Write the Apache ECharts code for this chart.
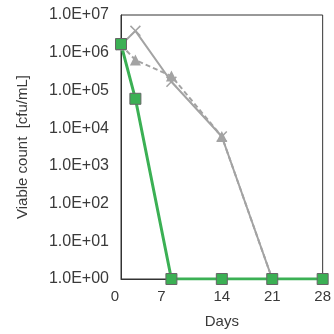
<!DOCTYPE html>
<html>
<head>
<meta charset="utf-8">
<script src="https://cdn.jsdelivr.net/npm/echarts@6/dist/echarts.min.js"></script>
<style>
html, body { margin: 0; padding: 0; background: #fff; }
#chart { width: 334px; height: 334px; }
</style>
</head>
<body>
<div id="chart"></div>
<script>
// values
const grayDays = [0, 2, 7, 14, 21];
const graySolid = [1.6e6, 3.8e6, 1.7e5, 6.0e3, 1];
const grayDashed = [1.6e6, 6.4e5, 2.4e5, 6.0e3, 1];
const greenDays = [0, 2, 7, 14, 21, 28];
const greenVals = [1.7e6, 6.0e4, 1, 1, 1, 1];
const xTicks = [0, 7, 14, 21, 28];

const pairs = (xs, ys) => xs.map((x, i) => [x, ys[i]]);
const crossPath = 'path://M0,1 L1,0 L5,4 L9,0 L10,1 L6,5 L10,9 L9,10 L5,6 L1,10 L0,9 L4,5 Z';
const txt = '#3a3a3a';
const font = 'Liberation Sans, Arial, sans-serif';

let myChart = echarts.init(document.getElementById('chart'));
myChart.setOption({
    animation: false,
    grid: { left: 121, top: 15, right: 8, bottom: 55, show: true, borderColor: '#333', borderWidth: 1 },
    xAxis: {
        type: 'value', min: 0, max: 28, interval: 7,
        name: 'Days', nameLocation: 'middle', nameGap: 35,
        nameTextStyle: { color: txt, fontSize: 15, fontFamily: font },
        axisLine: { show: true, lineStyle: { color: '#333' } },
        axisTick: { show: false },
        splitLine: { show: false },
        axisLabel: {
            color: txt, fontSize: 15, fontFamily: font, margin: 10,
            formatter: v => {
                if (!xTicks.includes(v)) return '';
                if (v === 0) return '{a|0}';
                if (v === 7) return '{b|7}';
                return String(v);
            },
            rich: {
                a: { fontSize: 15, fontFamily: font, color: txt, padding: [0, 12, 0, 0] },
                b: { fontSize: 15, fontFamily: font, color: txt, padding: [0, 20, 0, 0] }
            }
        }
    },
    yAxis: {
        type: 'log', logBase: 10, min: 1, max: 1e7,
        name: 'Viable count  [cfu/mL]', nameLocation: 'middle', nameGap: 91,
        nameTextStyle: { color: txt, fontSize: 15, fontFamily: font },
        axisLine: { show: true, lineStyle: { color: '#333' } },
        axisTick: { show: false },
        splitLine: { show: false },
        axisLabel: {
            color: txt, fontSize: 16, fontFamily: font, margin: 12,
            formatter: v => '1.0E+' + String(Math.round(Math.log10(v))).padStart(2, '0')
        }
    },
    series: [
        {
            type: 'line', data: pairs(grayDays, graySolid),
            lineStyle: { color: '#a3a3a3', width: 2 },
            symbol: crossPath, symbolSize: 11,
            itemStyle: { color: '#a3a3a3' }
        },
        {
            type: 'line', data: pairs(grayDays, grayDashed),
            lineStyle: { color: '#a3a3a3', width: 2, type: [5, 3] },
            symbol: 'triangle', symbolSize: 11,
            itemStyle: { color: '#a3a3a3' }
        },
        {
            type: 'line', data: pairs(greenDays, greenVals),
            lineStyle: { color: '#3bb054', width: 3 },
            symbol: 'rect', symbolSize: 11,
            itemStyle: { color: '#3bb054', borderColor: '#666', borderWidth: 1 }
        }
    ]
});
window.onresize = function () {
    myChart.resize();
};
</script>
</body>
</html>
